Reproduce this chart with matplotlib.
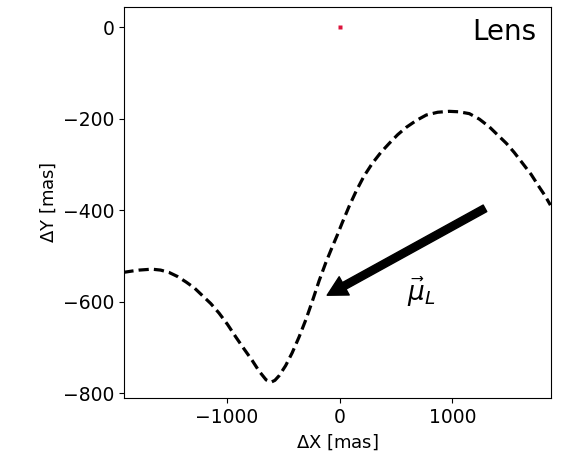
import matplotlib
matplotlib.use("Agg")
import matplotlib.pyplot as plt

# lens trajectory [mas]
track_x = [-1920, -1840, -1780, -1667, -1590, -1516, -1440, -1364, -1290, -1222,
           -1145, -1071, -995, -920, -850, -778, -715, -653, -609, -575,
           -538, -480, -422, -360, -298, -240, -182, -125, -67, -22,
           22, 85, 147, 215, 289, 365, 440, 515, 591, 680,
           769, 870, 973, 1060, 1151, 1240, 1329, 1400, 1480, 1550,
           1622, 1700, 1773, 1822, 1871]
track_y = [-536, -533, -531, -529, -531, -536, -545, -557, -570, -586,
           -604, -625, -650, -678, -703, -728, -752, -771, -776, -772,
           -762, -740, -712, -677, -638, -597, -554, -516, -481, -455,
           -428, -391, -358, -326, -298, -274, -254, -235, -219, -204,
           -192, -186, -184, -185, -189, -201, -218, -235, -254, -274,
           -297, -322, -350, -368, -389]

# proper motion arrow (tail -> head)
mu_tail = (1290, -396)
mu_head = (-111, -586)

fig = plt.figure(figsize=(5.65, 4.69), dpi=100)
ax = fig.add_axes([0.220, 0.151, 0.755, 0.834])

ax.plot(track_x, track_y, color="black", lw=2.3, linestyle=(0, (3.2, 1.6)))
ax.plot([0], [0], "s", color="crimson", ms=2.5, mec="none")

ax.annotate("", xy=mu_head, xytext=mu_tail,
            arrowprops=dict(arrowstyle="simple,head_length=0.7,head_width=0.75,tail_width=0.27",
                            color="black", mutation_scale=20,
                            shrinkA=0, shrinkB=0))
ax.text(724, -579, r"$\vec{\mu}_L$", fontsize=19, ha="center", va="center")
ax.text(0.967, 0.936, "Lens", transform=ax.transAxes, fontsize=20,
        ha="right", va="center")

ax.set_xlim(-1912, 1875)
ax.set_ylim(-811, 44)
ax.set_xticks([-1000, 0, 1000])
ax.set_yticks([0, -200, -400, -600, -800])
ax.tick_params(labelsize=13.5)
ax.set_xlabel(r"$\Delta$X [mas]", fontsize=13)
ax.set_ylabel(r"$\Delta$Y [mas]", fontsize=13)

fig.savefig("out.png", dpi=100)
